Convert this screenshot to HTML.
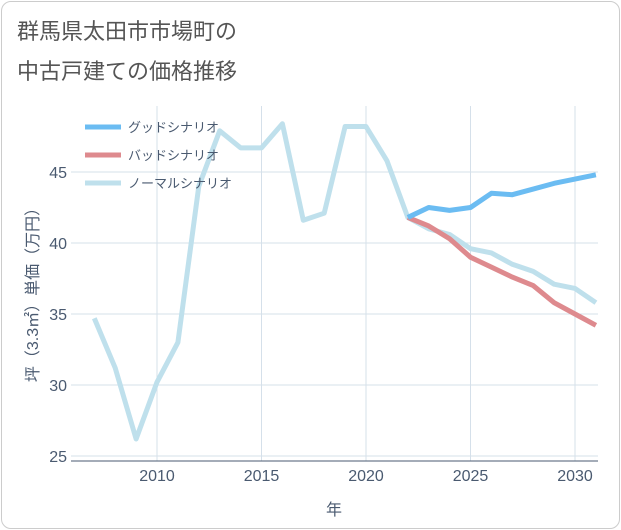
<!DOCTYPE html>
<html><head><meta charset="utf-8"><style>
body{margin:0;background:#fff;}
#card{position:absolute;left:1px;top:1px;width:617px;height:526px;border:1px solid #ccc;border-radius:10px;background:#fff;overflow:hidden;}
svg text{font-family:"Liberation Sans","Noto Sans CJK JP",sans-serif;}
</style></head><body>
<div id="card">
<svg id="chart" width="621" height="530" style="position:absolute;left:-1px;top:-1px">
<text x="16" y="38" font-size="22" fill="#555">群馬県太田市市場町の</text>
<text x="16" y="78" font-size="22" fill="#555">中古戸建ての価格推移</text>
<g id="grid"></g><g id="axes"></g><g id="series"></g>
<text x="0" y="0" transform="translate(37,290) rotate(-90)" text-anchor="middle" font-size="16" fill="#4a5a70">坪（3.3㎡）単価（万円）</text>
<text x="333" y="514" text-anchor="middle" font-size="16" fill="#4a5a70">年</text>
<g id="legend"></g>
</svg></div>
<script>
const years=[2007,2008,2009,2010,2011,2012,2013,2014,2015,2016,2017,2018,2019,2020,2021,2022,2023,2024,2025,2026,2027,2028,2029,2030,2031];
const normal=[34.7,31.2,26.2,30.2,33.0,44.0,47.9,46.7,46.7,48.4,41.6,42.1,48.2,48.2,45.8,41.8,41.0,40.6,39.6,39.3,38.5,38.0,37.1,36.8,35.8];
const fYears=[2022,2023,2024,2025,2026,2027,2028,2029,2030,2031];
const good=[41.8,42.5,42.3,42.5,43.5,43.4,43.8,44.2,44.5,44.8];
const bad=[41.8,41.2,40.3,39.0,38.3,37.6,37.0,35.8,35.0,34.2];
const xTicks=[2010,2015,2020,2025,2030];
const yTicks=[25,30,35,40,45];
const L=70,R=597,T=105,B=460;
const x=v=>156+(v-2010)*20.9;
const y=v=>171-(v-45)*14.2;
const ns="http://www.w3.org/2000/svg";
function mk(tag,attrs,parent){const e=document.createElementNS(ns,tag);for(const k in attrs)e.setAttribute(k,attrs[k]);document.getElementById(parent).appendChild(e);return e;}
xTicks.forEach(t=>{
 const l=mk('line',{x1:x(t),x2:x(t),y1:T,y2:B,stroke:'#d5e0ea','stroke-width':1},'grid');
 
 
 const tx=mk('text',{x:x(t),y:480,'text-anchor':'middle','font-size':16,fill:'#4a5a70'},'axes');tx.textContent=t;
 
 
});
yTicks.forEach(t=>{
 const l=mk('line',{x1:L,x2:R,y1:y(t),y2:y(t),stroke:'#d5e0ea','stroke-width':1},'grid');
 
 
 const tx=mk('text',{x:66,y:y(t)+6,'text-anchor':'end','font-size':16,fill:'#4a5a70'},'axes');tx.textContent=t;
 
 
});
const ax=mk('line',{x1:L,x2:R,y1:B,y2:B,stroke:'#4a5a70','stroke-width':1},'axes');


mk('clipPath',{id:'clip'},'series');
mk('rect',{x:L,y:T-10,width:R-L,height:B-T+10},'clip');
function line(xs,vs,color,name){
 const p=mk('polyline',{points:xs.map((v,i)=>x(v)+','+y(vs[i])).join(' '),fill:'none',stroke:color,'stroke-width':5,'stroke-linejoin':'round','clip-path':'url(#clip)'},'series');
 
 
}
line(years,normal,'#bfe0ec','normal-scenario-line');
line(fYears,bad,'#de8a8e','bad-scenario-line');
line(fYears,good,'#6bbcf2','good-scenario-line');
[['グッドシナリオ','#6bbcf2'],['バッドシナリオ','#de8a8e'],['ノーマルシナリオ','#bfe0ec']].forEach((e,i)=>{
 const yy=126+i*28;
 const l=mk('line',{x1:84,x2:120,y1:yy,y2:yy,stroke:e[1],'stroke-width':5},'legend');
 
 
 const t=mk('text',{x:127,y:yy+5,'font-size':13,fill:'#4a5a70'},'legend');t.textContent=e[0];
 
 
});
</script>
</body></html>
